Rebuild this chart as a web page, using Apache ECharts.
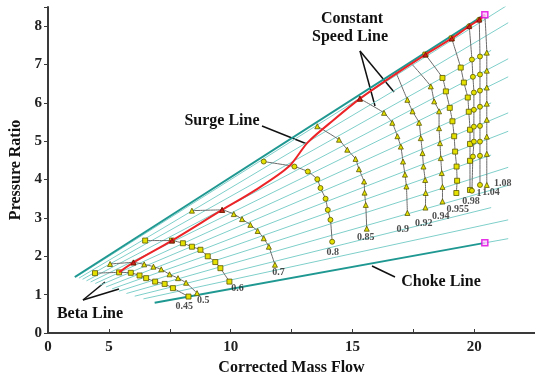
<!DOCTYPE html>
<html>
<head>
<meta charset="utf-8">
<script src="https://cdn.jsdelivr.net/npm/echarts@6/dist/echarts.min.js"></script>
<style>
    html, body { margin: 0; padding: 0; background: #fff; }
    #chart { width: 535px; height: 374px; }
</style>
</head>
<body>
<div id="chart"></div>
<script>
// beta lines: [x1, y1, x2, y2]
const betaLines = [
    [3.63, 1.45, 21.3, 8.52],
    [3.77, 1.43, 21.4, 8.09],
    [3.92, 1.40, 20.7, 7.37],
    [4.08, 1.36, 21.4, 7.15],
    [4.25, 1.33, 21.4, 6.68],
    [4.44, 1.29, 20.7, 6.00],
    [4.65, 1.25, 21.4, 5.74],
    [4.88, 1.20, 21.4, 5.26],
    [5.13, 1.15, 20.7, 4.64],
    [5.41, 1.09, 21.4, 4.32],
    [5.72, 1.03, 21.4, 3.85],
    [6.06, 0.96, 20.7, 3.27],
    [6.42, 0.89, 21.4, 2.95],
    [20.44, 2.35, 21.4, 2.46]
]
const surgeBoundary = [[3.60, 1.46], [20.44, 8.30]]
const chokeLine = [[6.88, 0.79], [20.44, 2.35]]

const surgeLine = [
    [5.42, 1.58], [6.01, 1.84], [7.59, 2.41], [9.65, 3.21], [11.0, 3.72], [12.39, 4.34],
    [13.17, 4.97], [14.24, 5.56], [15.31, 6.11], [16.6, 6.68], [18.0, 7.26], [19.08, 7.68],
    [19.8, 8.0], [20.21, 8.17], [20.44, 8.3]
]
const surgeMarks = [[6.01, 1.84], [7.59, 2.41], [9.65, 3.21], [15.31, 6.11], [18.0, 7.26], [19.08, 7.68], [19.8, 8.0], [20.21, 8.17]]
const endMarks = [[20.44, 8.30], [20.44, 2.35]]

const speedNames = ['0.45', '0.5', '0.6', '0.7', '0.8', '0.85', '0.9', '0.92', '0.94', '0.955', '0.98', '1', '1.04', '1.08']
const s045 = [[4.43, 1.56], [5.42, 1.58], [5.90, 1.57], [6.26, 1.50], [6.53, 1.43], [6.90, 1.34], [7.29, 1.28], [7.63, 1.17], [8.27, 0.95]]
const s05 = [[5.05, 1.80], [6.01, 1.84], [6.45, 1.79], [6.83, 1.73], [7.15, 1.66], [7.49, 1.53], [7.84, 1.43], [8.17, 1.31], [8.62, 1.04]]
const s06 = [[6.49, 2.41], [7.59, 2.41], [8.04, 2.34], [8.41, 2.25], [8.76, 2.17], [9.06, 2.00], [9.37, 1.85], [9.58, 1.69], [9.95, 1.34]]
const s07 = [[8.41, 3.19], [9.65, 3.21], [10.13, 3.10], [10.47, 2.97], [10.81, 2.82], [11.11, 2.66], [11.36, 2.47], [11.57, 2.25], [11.82, 1.78]]
const s08 = [[11.36, 4.47], [12.62, 4.34], [13.17, 4.21], [13.56, 4.01], [13.69, 3.78], [13.90, 3.50], [13.99, 3.21], [14.10, 2.95], [14.17, 2.38]]
const s085 = [[13.56, 5.39], [14.45, 5.04], [14.79, 4.78], [15.13, 4.54], [15.27, 4.27], [15.48, 3.95], [15.50, 3.66], [15.55, 3.34], [15.59, 2.72]]
const s09 = [[15.31, 6.11], [16.30, 5.74], [16.64, 5.48], [16.85, 5.13], [16.99, 4.86], [17.08, 4.47], [17.16, 4.13], [17.22, 3.82], [17.26, 3.13]]
const s092 = [[16.78, 6.81], [17.26, 6.08], [17.47, 5.78], [17.74, 5.48], [17.81, 5.08], [17.88, 4.69], [17.92, 4.34], [17.99, 3.99], [18.01, 3.65], [18.0, 3.27]]
const s094 = [[17.46, 7.00], [18.22, 6.43], [18.36, 6.04], [18.56, 5.78], [18.56, 5.34], [18.60, 4.95], [18.63, 4.56], [18.67, 4.17], [18.70, 3.81], [18.70, 3.43]]
const s0955 = [[18.0, 7.26], [18.70, 6.65], [18.84, 6.30], [19.00, 5.87], [19.11, 5.52], [19.18, 5.13], [19.22, 4.73], [19.28, 4.34], [19.30, 3.97], [19.27, 3.65]]
const s098 = [[19.08, 7.68], [19.45, 6.92], [19.58, 6.53], [19.74, 6.14], [19.78, 5.77], [19.83, 5.30], [19.83, 4.93], [19.83, 4.49], [19.83, 3.73]]
const s1 = [[19.80, 8.00], [19.91, 7.13], [19.95, 6.68], [19.99, 6.27], [19.99, 5.82], [19.99, 5.38], [19.99, 4.99], [19.95, 4.60], [19.91, 3.71]]
const s104 = [[20.21, 8.17], [20.24, 7.21], [20.24, 6.74], [20.24, 6.32], [20.24, 5.90], [20.24, 5.40], [20.24, 4.99], [20.24, 4.62], [20.24, 3.86]]
const s108 = [[20.44, 8.30], [20.52, 7.31], [20.52, 6.84], [20.52, 6.40], [20.52, 5.98], [20.52, 5.56], [20.52, 5.12], [20.52, 4.67], [20.52, 3.86]]
const speedLines = [s045, s05, s06, s07, s08, s085, s09, s092, s094, s0955, s098, s1, s104, s108]
// where the speed labels sit
const labelPos = [
    [8.10, 0.68], [8.88, 0.86], [10.28, 1.15], [11.97, 1.57], [14.19, 2.09], [15.55, 2.48], [17.07, 2.69],
    [17.93, 2.85], [18.63, 3.03], [19.33, 3.21], [19.87, 3.42], [20.20, 3.63], [20.69, 3.66], [21.18, 3.89]
]

const xTickLabels = { 2.5: '0', 5: '5', 10: '10', 15: '15', 20: '20' }
const yTicks = [0, 1, 2, 3, 4, 5, 6, 7, 8]

const serif = '"Liberation Serif", "Times New Roman", serif'
const shapes = ['rect', 'triangle', 'rect', 'triangle', 'circle', 'triangle', 'triangle', 'triangle', 'triangle', 'rect', 'rect', 'circle', 'circle', 'triangle']
const bareTop = [false, false, false, false, false, false, false, true, true, false, false, false, false, true]

let series = []
betaLines.forEach(l => {
    series.push({
        type: 'line', data: [[l[0], l[1]], [l[2], l[3]]], symbol: 'none', silent: true, z: 1,
        lineStyle: { color: '#7fcfca', width: 1 }
    })
})
;[surgeBoundary, chokeLine].forEach(d => {
    series.push({
        type: 'line', data: d, symbol: 'none', silent: true, z: 2,
        lineStyle: { color: '#1f9892', width: 2 }
    })
})
speedLines.forEach((d, i) => {
    series.push({
        type: 'line', data: d, z: 3, smooth: 0.15,
        symbol: (v, p) => (p.dataIndex === 0 && bareTop[i]) ? 'none' : shapes[i],
        symbolSize: 5,
        lineStyle: { color: '#6a6a6a', width: 1 },
        itemStyle: { color: '#e4e000', borderColor: '#5a5800', borderWidth: 0.8 }
    })
})
series.push({
    type: 'line', data: surgeLine, symbol: 'none', smooth: 0.3, z: 4,
    lineStyle: { color: '#ec2428', width: 2 }
})
series.push({
    type: 'scatter', data: surgeMarks, symbol: 'triangle', symbolSize: 5, z: 5,
    itemStyle: { color: '#c0161c', borderColor: '#6a0000', borderWidth: 0.8 }
})
series.push({
    type: 'scatter', data: endMarks, symbol: 'rect', symbolSize: 6, z: 5,
    itemStyle: { color: '#ffc8ff', borderColor: '#e000e0', borderWidth: 1.5 }
})
series.push({
    type: 'scatter', symbolSize: 0, z: 6,
    data: speedNames.map((n, i) => ({ name: n, value: labelPos[i] })),
    label: {
        show: true, position: 'inside', formatter: p => p.name,
        fontFamily: serif, fontWeight: 'bold', fontSize: 10, color: '#222'
    }
})

const bold16 = { fontFamily: serif, fontWeight: 'bold', fontSize: 16, fill: '#111', textAlign: 'center', textVerticalAlign: 'middle' }
const stroke = { stroke: '#111', lineWidth: 1.5 }

const myChart = echarts.init(document.getElementById('chart'))
myChart.setOption({
    animation: false,
    grid: { left: 48, right: 0, top: 7, bottom: 41, outerBoundsMode: 'none', containLabel: false },
    xAxis: {
        type: 'value', min: 2.5, max: 22.5, interval: 2.5,
        name: 'Corrected Mass Flow', nameLocation: 'middle', nameGap: 24,
        nameTextStyle: { fontFamily: serif, fontWeight: 'bold', fontSize: 16, color: '#111' },
        axisLine: { lineStyle: { color: '#3a3a3a', width: 2 } },
        axisTick: { inside: true, length: 4, lineStyle: { color: '#3a3a3a' } },
        splitLine: { show: false },
        axisLabel: {
            formatter: v => xTickLabels[v] || '', margin: 7,
            fontFamily: serif, fontWeight: 'bold', fontSize: 15, color: '#222'
        }
    },
    yAxis: {
        type: 'value', min: 0, max: 8.5, interval: 1,
        name: 'Pressure Ratio', nameLocation: 'middle', nameGap: 20,
        nameTextStyle: { fontFamily: serif, fontWeight: 'bold', fontSize: 16, color: '#111' },
        axisLine: { show: true, lineStyle: { color: '#3a3a3a', width: 2 } },
        axisTick: { show: true, length: 4, lineStyle: { color: '#3a3a3a' } },
        splitLine: { show: false },
        axisLabel: {
            formatter: v => yTicks.indexOf(v) > -1 ? String(v) : '', margin: 6,
            fontFamily: serif, fontWeight: 'bold', fontSize: 15, color: '#222'
        }
    },
    graphic: [
        { type: 'text', x: 352, y: 19, style: Object.assign({ text: 'Constant' }, bold16) },
        { type: 'text', x: 350, y: 37, style: Object.assign({ text: 'Speed Line' }, bold16) },
        { type: 'line', shape: { x1: 360, y1: 51, x2: 375, y2: 106 }, style: stroke },
        { type: 'line', shape: { x1: 360, y1: 51, x2: 394, y2: 92 }, style: stroke },
        { type: 'text', x: 222, y: 121, style: Object.assign({ text: 'Surge Line' }, bold16) },
        { type: 'line', shape: { x1: 262, y1: 126, x2: 307, y2: 144 }, style: stroke },
        { type: 'text', x: 90, y: 314, style: Object.assign({ text: 'Beta Line' }, bold16) },
        { type: 'line', shape: { x1: 83, y1: 300, x2: 105, y2: 282 }, style: stroke },
        { type: 'line', shape: { x1: 83, y1: 300, x2: 119, y2: 289 }, style: stroke },
        { type: 'text', x: 441, y: 282, style: Object.assign({ text: 'Choke Line' }, bold16) },
        { type: 'line', shape: { x1: 372, y1: 266, x2: 395, y2: 277 }, style: stroke }
    ],
    series: series
})
</script>
</body>
</html>
